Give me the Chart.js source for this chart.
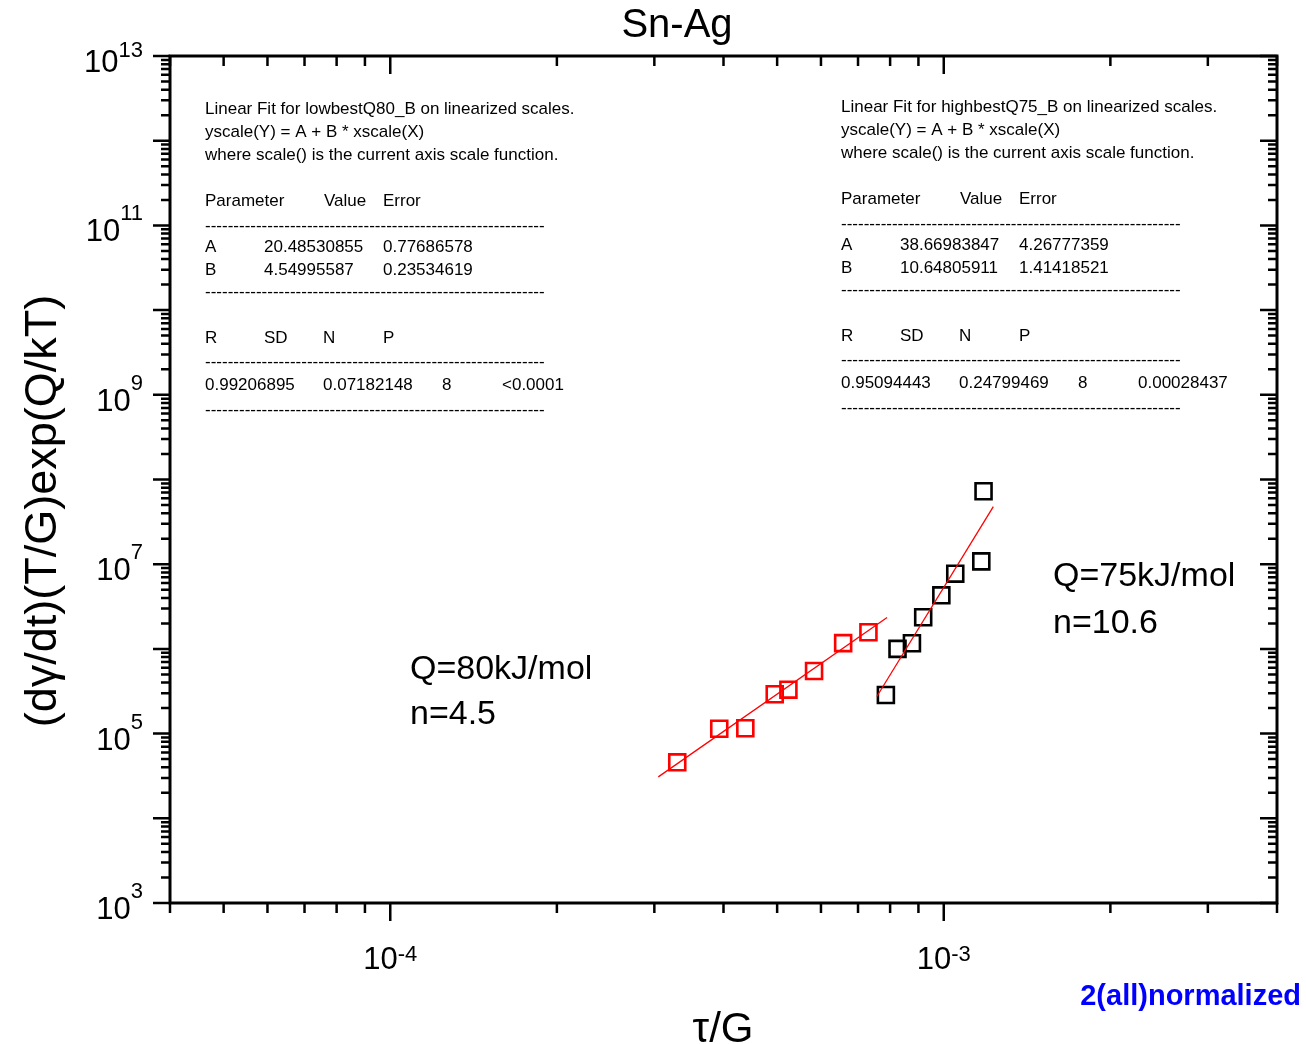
<!DOCTYPE html>
<html>
<head>
<meta charset="utf-8">
<title>Sn-Ag</title>
<script src="https://cdn.jsdelivr.net/npm/chart.js@4.4.1/dist/chart.umd.min.js"></script>
<style>
    html, body { margin: 0; padding: 0; background: #fff; }
    #wrap { width: 1306px; height: 1044px; }
</style>
</head>
<body>
<div id="wrap"><canvas id="myChart" width="1306" height="1044"></canvas></div>
<script>
// data (tau/G vs normalized strain rate)
var lowX = [3.30e-4, 3.93e-4, 4.38e-4, 4.95e-4, 5.24e-4, 5.83e-4, 6.58e-4, 7.31e-4];
var lowY = [4.58e4, 1.14e5, 1.155e5, 2.91e5, 3.30e5, 5.48e5, 1.17e6, 1.57e6];
var highX = [7.86e-4, 8.25e-4, 8.76e-4, 9.18e-4, 9.90e-4, 1.049e-3, 1.169e-3, 1.180e-3];
var highY = [2.86e5, 1.0e6, 1.165e6, 2.36e6, 4.29e6, 7.73e6, 1.08e7, 7.26e7];

// linear fits on log scales
var lowA = 20.48530855, lowAErr = 0.77686578;
var lowB = 4.54995587, lowBErr = 0.23534619;
var lowStats = ['0.99206895', '0.07182148', '8', '<0.0001'];
var lowFitX = [3.05e-4, 7.9e-4];

var highA = 38.66983847, highAErr = 4.26777359;
var highB = 10.64805911, highBErr = 1.41418521;
var highStats = ['0.95094443', '0.24799469', '8', '0.00028437'];
var highFitX = [7.57e-4, 1.229e-3];

// axes
var xRange = [4e-5, 4e-3];
var yRange = [1e3, 1e13];
var xLabelExp = [-4, -3];
var yLabelExp = [3, 5, 7, 9, 11, 13];

var FONT = '"Liberation Sans", Arial, sans-serif';

function fitLine(xs, a, b) {
    return xs.map(function (x) {
        return {x: x, y: Math.pow(10, a + b * Math.log10(x))};
    });
}

function points(xs, ys) {
    return xs.map(function (x, i) {
        return {x: x, y: ys[i]};
    });
}

function dashes(c, x, y, w) {
    var s = '-';
    while (c.measureText(s + '-').width <= w) {
        s += '-';
    }
    c.fillText(s, x, y);
}

function fitBox(c, x0, y0, name, a, aErr, b, bErr, stats) {
    c.font = '17px ' + FONT;
    c.fillStyle = '#000';
    c.textAlign = 'left';
    c.textBaseline = 'alphabetic';
    c.fillText('Linear Fit for ' + name + ' on linearized scales.', x0, y0 + 3);
    c.fillText('yscale(Y) = A + B * xscale(X)', x0, y0 + 26);
    c.fillText('where scale() is the current axis scale function.', x0, y0 + 49);
    c.fillText('Parameter', x0, y0 + 95);
    c.fillText('Value', x0 + 119, y0 + 95);
    c.fillText('Error', x0 + 178, y0 + 95);
    dashes(c, x0, y0 + 120, 341);
    c.fillText('A', x0, y0 + 141);
    c.fillText(a.toFixed(8), x0 + 59, y0 + 141);
    c.fillText(aErr.toFixed(8), x0 + 178, y0 + 141);
    c.fillText('B', x0, y0 + 164);
    c.fillText(b.toFixed(8), x0 + 59, y0 + 164);
    c.fillText(bErr.toFixed(8), x0 + 178, y0 + 164);
    dashes(c, x0, y0 + 186, 341);
    c.fillText('R', x0, y0 + 232);
    c.fillText('SD', x0 + 59, y0 + 232);
    c.fillText('N', x0 + 118, y0 + 232);
    c.fillText('P', x0 + 178, y0 + 232);
    dashes(c, x0, y0 + 256, 341);
    c.fillText(stats[0], x0, y0 + 279);
    c.fillText(stats[1], x0 + 118, y0 + 279);
    c.fillText(stats[2], x0 + 237, y0 + 279);
    c.fillText(stats[3], x0 + 297, y0 + 279);
    dashes(c, x0, y0 + 304, 341);
}

var originFrame = {
    id: 'originFrame',
    afterDraw: function (chart) {
        var c = chart.ctx;
        var a = chart.chartArea;
        var sx = chart.scales.x;
        var sy = chart.scales.y;
        var d, m, v, p, len;

        c.save();
        c.strokeStyle = '#000';
        c.lineWidth = 2.5;
        c.beginPath();
        // x ticks: out at the bottom, in at the top
        for (d = -5; d <= -3; d++) {
            for (m = 1; m <= 9; m++) {
                v = m * Math.pow(10, d);
                if (v < xRange[0] * 0.999 || v > xRange[1] * 1.001) continue;
                p = sx.getPixelForValue(v);
                len = m === 1 ? 18 : 10;
                c.moveTo(p, a.bottom);
                c.lineTo(p, a.bottom + len);
                c.moveTo(p, a.top);
                c.lineTo(p, a.top + len);
            }
        }
        // y ticks: out on the left, in on the right
        for (d = 3; d <= 13; d++) {
            for (m = 1; m <= 9; m++) {
                v = m * Math.pow(10, d);
                if (v > yRange[1] * 1.001) continue;
                p = sy.getPixelForValue(v);
                len = m === 1 ? 17 : 9;
                c.moveTo(a.left, p);
                c.lineTo(a.left - len, p);
                c.moveTo(a.right, p);
                c.lineTo(a.right - len, p);
            }
        }
        c.stroke();

        c.lineWidth = 3;
        c.strokeRect(a.left, a.top, a.right - a.left, a.bottom - a.top);

        // tick labels as 10^n
        c.fillStyle = '#000';
        c.textBaseline = 'alphabetic';
        xLabelExp.forEach(function (e) {
            var px = sx.getPixelForValue(Math.pow(10, e));
            c.font = '31px ' + FONT;
            var w1 = c.measureText('10').width;
            c.font = '22px ' + FONT;
            var w2 = c.measureText(String(e)).width;
            var left = px - (w1 + w2) / 2;
            c.textAlign = 'left';
            c.font = '31px ' + FONT;
            c.fillText('10', left, a.bottom + 66);
            c.font = '22px ' + FONT;
            c.fillText(String(e), left + w1, a.bottom + 58);
        });
        yLabelExp.forEach(function (e) {
            var py = sy.getPixelForValue(Math.pow(10, e));
            c.textAlign = 'right';
            c.font = '22px ' + FONT;
            var w2 = c.measureText(String(e)).width;
            c.fillText(String(e), 143, Math.max(py - 5, 57));
            c.font = '31px ' + FONT;
            c.fillText('10', 143 - w2, py + 16);
        });

        // titles
        c.textAlign = 'center';
        c.font = '40px ' + FONT;
        c.fillText('Sn-Ag', 677, 37);
        c.font = '42px ' + FONT;
        c.fillText('\u03c4/G', 723, 1042);
        c.save();
        c.translate(56, 511);
        c.rotate(-Math.PI / 2);
        c.font = '45px ' + FONT;
        c.fillText('(d\u03b3/dt)(T/G)exp(Q/kT)', 0, 0);
        c.restore();

        // annotations
        c.textAlign = 'left';
        c.font = '34px ' + FONT;
        c.fillText('Q=80kJ/mol', 410, 679);
        c.fillText('n=4.5', 410, 724);
        c.fillText('Q=75kJ/mol', 1053, 586);
        c.fillText('n=10.6', 1053, 633);

        fitBox(c, 205, 111, 'lowbestQ80_B', lowA, lowAErr, lowB, lowBErr, lowStats);
        fitBox(c, 841, 109, 'highbestQ75_B', highA, highAErr, highB, highBErr, highStats);

        c.font = 'bold 29px ' + FONT;
        c.fillStyle = '#0000ff';
        c.textAlign = 'right';
        c.fillText('2(all)normalized', 1301, 1005);
        c.restore();
    }
};

var chart = new Chart(document.getElementById('myChart').getContext('2d'), {
    type: 'scatter',
    data: {
        datasets: [
            {
                label: 'low fit',
                data: fitLine(lowFitX, lowA, lowB),
                showLine: true,
                borderColor: '#ff0000',
                borderWidth: 1.3,
                pointRadius: 0
            },
            {
                label: 'high fit',
                data: fitLine(highFitX, highA, highB),
                showLine: true,
                borderColor: '#ff0000',
                borderWidth: 1.3,
                pointRadius: 0
            },
            {
                label: 'lowbestQ80_B',
                data: points(lowX, lowY),
                pointStyle: 'rect',
                pointRadius: 11.3,
                borderWidth: 2.6,
                borderColor: '#ff0000',
                backgroundColor: 'rgba(0,0,0,0)'
            },
            {
                label: 'highbestQ75_B',
                data: points(highX, highY),
                pointStyle: 'rect',
                pointRadius: 11.3,
                borderWidth: 2.6,
                borderColor: '#000000',
                backgroundColor: 'rgba(0,0,0,0)'
            }
        ]
    },
    options: {
        responsive: false,
        animation: false,
        devicePixelRatio: 1,
        events: [],
        layout: {
            padding: {left: 170, top: 56, right: 29, bottom: 141}
        },
        plugins: {
            legend: {display: false},
            tooltip: {enabled: false},
            title: {display: false}
        },
        scales: {
            x: {type: 'logarithmic', min: xRange[0], max: xRange[1], display: false},
            y: {type: 'logarithmic', min: yRange[0], max: yRange[1], display: false}
        }
    },
    plugins: [originFrame]
});
</script>
</body>
</html>
